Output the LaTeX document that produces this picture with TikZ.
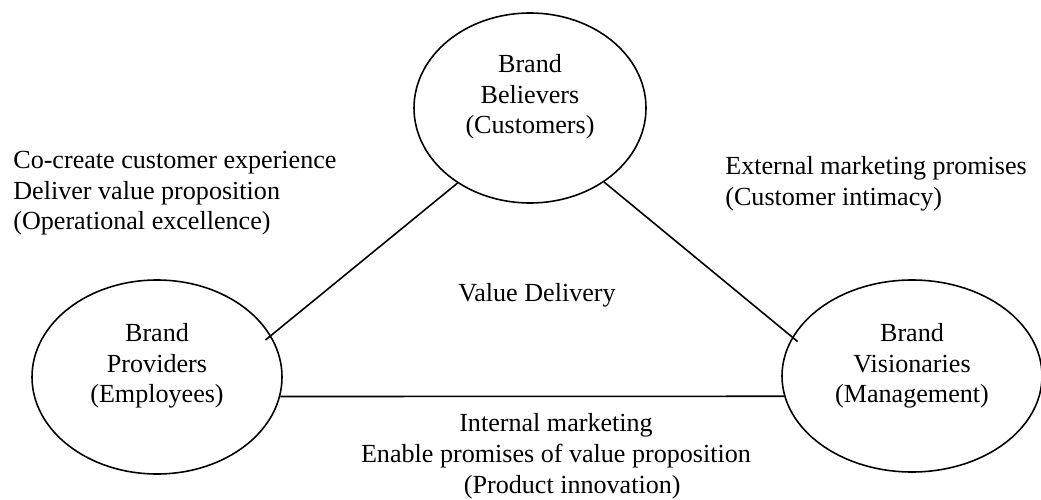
\documentclass[tikz,border=0pt]{standalone}
\usepackage{fontspec}
\setmainfont{Liberation Serif}
\usetikzlibrary{shapes.geometric, positioning}

\begin{document}
\begin{tikzpicture}[
  party/.style={ellipse, draw, line width=0.9pt, inner sep=0pt},
  pname/.style={align=center, inner sep=0pt, font=\fontsize{14.85}{17.4}\selectfont},
  note/.style={inner sep=0pt, font=\fontsize{14.85}{17.4}\selectfont},
  link/.style={draw, line width=0.9pt}
]

%% fixed frame
\useasboundingbox (0,0) rectangle (20.82,9.98);

%% the three parties
\node[party, minimum width=4.64cm, minimum height=3.8cm]  (bb) at (10.6, 7.82) {};
\node[party, minimum width=5.0cm,  minimum height=3.88cm] (bp) at (3.14, 2.44) {};
\node[party, minimum width=5.2cm,  minimum height=3.84cm] (bv) at (18.24, 2.46) {};

\node[pname] (bbt) at ([yshift=0.22cm]bb.center) {Brand\\Believers\\(Customers)};
\node[pname] (bpt) at ([yshift=0.22cm]bp.center) {Brand\\Providers\\(Employees)};
\node[pname] (bvt) at ([yshift=0.2cm]bv.center)  {Brand\\Visionaries\\(Management)};

%% sides of the triangle
\draw[link, shorten <=-0.14cm] (bp.20) -- (bb.226);
\draw[link, shorten >=-0.14cm] (bb.315) -- (bv.162);
\draw[link] (bp.-9) -- (bv.189);

%% side texts
\node[note, align=left, anchor=north west] (ops) at (0.26, 6.96)
  {Co-create customer experience\\Deliver value proposition\\(Operational excellence)};
\node[note, align=left, anchor=north west] (ext) at (14.5, 6.86)
  {External marketing promises\\(Customer intimacy)};
\node[note, anchor=base] (val) at (10.74, 3.96) {Value Delivery};
\node[note, align=center, anchor=north] (int) at (11.12, 1.71)
  {Internal marketing\\Enable promises of value proposition\\\hspace*{0.65cm}(Product innovation)};

\end{tikzpicture}
\end{document}
